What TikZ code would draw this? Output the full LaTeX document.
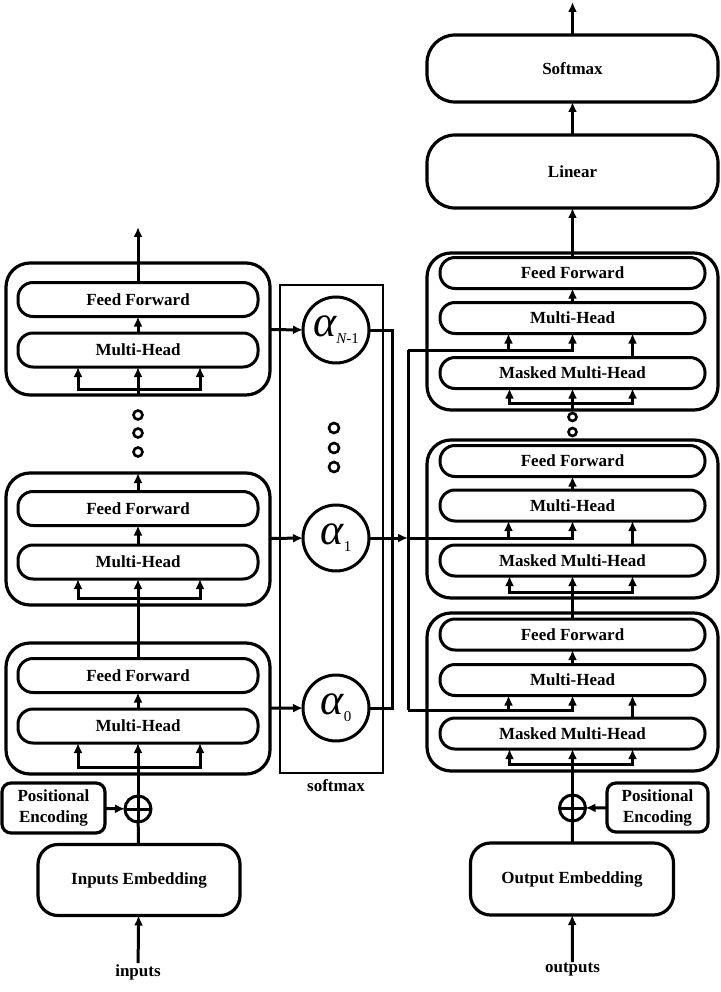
\documentclass[tikz,border=0pt]{standalone}
\usepackage{fontspec}
\setmainfont{Liberation Serif}
\usetikzlibrary{arrows.meta}
\newcommand\boxfont{\fontsize{17}{21}\selectfont\bfseries}
\newcommand\subfont{\fontsize{15}{15}\selectfont}
\newcommand\wtfont{\fontsize{44}{44}\selectfont\itshape}
\tikzset{
    wire/.style={line width=3pt},
    arr/.style={wire,-{Latex[length=10pt,width=9pt]}},
    fan/.style={wire,{Latex[length=10pt,width=9pt]}-{Latex[length=10pt,width=9pt]}},
    block/.style={draw,line width=3.2pt,rounded corners=24pt,inner sep=0pt,outer sep=0pt},
    pill/.style={draw,line width=3pt,rounded corners=15pt,inner sep=0pt,outer sep=0pt,font=\boxfont},
    card/.style={draw,line width=3.2pt,inner sep=0pt,outer sep=0pt,align=center,font=\boxfont},
    weight/.style={draw,circle,line width=3pt,minimum size=66pt,inner sep=0pt,outer sep=0pt},
    adder/.style={draw,circle,line width=3pt,minimum size=26pt,inner sep=0pt,outer sep=0pt},
    dot/.style={draw,circle,line width=2.6pt,minimum size=9pt,inner sep=0pt},
    caption/.style={inner sep=1pt,font=\boxfont}
}
\begin{document}
\begin{tikzpicture}[x=1pt,y=-1pt]
    \useasboundingbox (0,0) rectangle (720,992);
    \node[block,minimum width=264pt,minimum height=132pt] (encT) at (138,329) {};
    \node[pill,minimum width=240pt,minimum height=34pt] (encTff) at (138,299.5) {Feed Forward};
    \node[pill,minimum width=240pt,minimum height=34pt] (encTmh) at (138,350) {Multi-Head};
    \node[block,minimum width=264pt,minimum height=132pt] (encM) at (138,539) {};
    \node[pill,minimum width=240pt,minimum height=34pt] (encMff) at (138,508.5) {Feed Forward};
    \node[pill,minimum width=240pt,minimum height=34pt] (encMmh) at (138,562) {Multi-Head};
    \node[block,minimum width=264pt,minimum height=131pt] (encB) at (138,708.5) {};
    \node[pill,minimum width=240pt,minimum height=34pt] (encBff) at (138,675.5) {Feed Forward};
    \node[pill,minimum width=240pt,minimum height=34pt] (encBmh) at (138,726) {Multi-Head};
    \node[dot] (encDot1) at (138,415) {};
    \node[dot] (encDot2) at (138,433) {};
    \node[dot] (encDot3) at (138,452) {};
    \coordinate (encOut) at (138,227);

    \node[card,rounded corners=9pt,minimum width=103pt,minimum height=50pt] (peE) at (53.5,808) {Positional\\Encoding};
    \node[adder] (addE) at (138,809) {};
    \node[card,rounded corners=20pt,minimum width=202pt,minimum height=71pt] (embE) at (139,880) {Inputs Embedding};
    \node[caption] (inLbl) at (138,972) {inputs};

    \node[draw,line width=2.8pt,minimum width=103pt,minimum height=488pt,outer sep=0pt] (smx) at (331.5,529) {};
    \node[caption] (smxLbl) at (336,786) {softmax};
    \node[weight] (a2) at (336,330) {{\wtfont α}\raisebox{-7pt}{\subfont\itshape N\upshape{-}1}};
    \node[weight] (a1) at (336,538) {{\wtfont α}\raisebox{-7pt}{\subfont 1}};
    \node[weight] (a0) at (336,708) {{\wtfont α}\raisebox{-7pt}{\subfont 0}};
    \node[dot,minimum size=10pt] (smDot1) at (334,428) {};
    \node[dot,minimum size=10pt] (smDot2) at (334,448) {};
    \node[dot,minimum size=10pt] (smDot3) at (334,467) {};
    \coordinate (busL) at (392,708);
    \coordinate (busT) at (408,350);
    \coordinate (busM) at (408,538);
    \coordinate (busB) at (408,710);

    \node[block,minimum width=291pt,minimum height=157pt] (decT) at (572.5,331.5) {};
    \node[pill,minimum width=265pt,minimum height=31pt] (decTff) at (572.5,273) {Feed Forward};
    \node[pill,minimum width=265pt,minimum height=31pt] (decTmh) at (572.5,318) {Multi-Head};
    \node[pill,minimum width=265pt,minimum height=31pt] (decTmask) at (572.5,373) {Masked Multi-Head};
    \node[block,minimum width=291pt,minimum height=158pt] (decM) at (572.5,519) {};
    \node[pill,minimum width=265pt,minimum height=31pt] (decMff) at (572.5,461) {Feed Forward};
    \node[pill,minimum width=265pt,minimum height=31pt] (decMmh) at (572.5,505.5) {Multi-Head};
    \node[pill,minimum width=265pt,minimum height=31pt] (decMmask) at (572.5,560.5) {Masked Multi-Head};
    \node[block,minimum width=291pt,minimum height=158pt] (decB) at (572.5,692) {};
    \node[pill,minimum width=265pt,minimum height=31pt] (decBff) at (572.5,634.5) {Feed Forward};
    \node[pill,minimum width=265pt,minimum height=31pt] (decBmh) at (572.5,680) {Multi-Head};
    \node[pill,minimum width=265pt,minimum height=31pt] (decBmask) at (572.5,733.5) {Masked Multi-Head};
    \node[dot,minimum size=8pt] (decDot1) at (572.5,417) {};
    \node[dot,minimum size=8pt] (decDot2) at (572.5,432) {};

    \node[card,rounded corners=28pt,minimum width=291pt,minimum height=73pt] (lin) at (572.5,171.5) {Linear};
    \node[card,rounded corners=28pt,minimum width=291pt,minimum height=67pt] (smax) at (572.5,68.5) {Softmax};
    \coordinate (decOut) at (572.5,2);

    \node[card,rounded corners=9pt,minimum width=101pt,minimum height=49pt] (peD) at (657.5,807.5) {Positional\\Encoding};
    \node[adder] (addD) at (572.5,808) {};
    \node[card,rounded corners=20pt,minimum width=203pt,minimum height=72pt] (embD) at (572,879) {Output Embedding};
    \node[caption] (outLbl) at (572.5,970) {outputs};

    \draw[arr] (inLbl) -- (embE);
    \draw[wire] (embE) -- (addE);
    \draw[wire] (addE.west) -- (addE.east) (addE.north) -- (addE.south);
    \draw[arr] (peE) -- (addE);
    \draw[arr] (addE) -- (encBmh);
    \draw[fan] ([xshift=-60pt]encBmh.south) -- ++(0,24) -| ([xshift=62pt]encBmh.south);
    \draw[arr] (encBmh) -- (encBff);
    \draw[arr] (encBff) -- (encMmh);
    \draw[fan] ([xshift=-60pt]encMmh.south) -- ++(0,19) -| ([xshift=62pt]encMmh.south);
    \draw[arr] (encMmh) -- (encMff);
    \draw[arr] (encMff) -- (encM.north);
    \draw[arr] (encT.south) -- (encTmh);
    \draw[fan] ([xshift=-60pt]encTmh.south) -- ++(0,22) -| ([xshift=62pt]encTmh.south);
    \draw[arr] (encTmh) -- (encTff);
    \draw[arr] (encTff) -- (encOut);

    \draw[arr] (encT) -- (a2);
    \draw[arr] (encM) -- (a1);
    \draw[arr] (encB) -- (a0);
    \draw[wire] (a2.east) -| (busL) -- (a0.east);
    \draw[arr] (a1) -- (busM);
    \draw[wire] (busT) -- (busB);

    \draw[arr] (outLbl) -- (embD);
    \draw[wire] (embD) -- (addD);
    \draw[wire] (addD.west) -- (addD.east) (addD.north) -- (addD.south);
    \draw[arr] (peD) -- (addD);
    \draw[arr] (addD) -- (decBmask);
    \draw[fan] ([xshift=-63pt]decBmask.south) -- ++(0,15) -| ([xshift=60pt]decBmask.south);
    \draw[arr] ([xshift=60pt]decBmask.north) -- ([xshift=60pt]decBmh.south);
    \draw[arr] (busB) -| (decBmh.south);
    \draw[arr] (busB) -| ([xshift=-64pt]decBmh.south);
    \draw[arr] (decBmh) -- (decBff);
    \draw[arr] (decBff) -- (decMmask);
    \draw[fan] ([xshift=-63pt]decMmask.south) -- ++(0,16) -| ([xshift=60pt]decMmask.south);
    \draw[arr] ([xshift=60pt]decMmask.north) -- ([xshift=60pt]decMmh.south);
    \draw[arr] (busM) -| (decMmh.south);
    \draw[arr] (busM) -| ([xshift=-64pt]decMmh.south);
    \draw[arr] (decMmh) -- (decMff);
    \draw[arr] (decT.south) -- (decTmask);
    \draw[fan] ([xshift=-63pt]decTmask.south) -- ++(0,15) -| ([xshift=60pt]decTmask.south);
    \draw[arr] ([xshift=60pt]decTmask.north) -- ([xshift=60pt]decTmh.south);
    \draw[arr] (busT) -| (decTmh.south);
    \draw[arr] (busT) -| ([xshift=-64pt]decTmh.south);
    \draw[arr] (decTmh) -- (decTff);
    \draw[arr] (decTff) -- (lin);
    \draw[arr] (lin) -- (smax);
    \draw[arr] (smax) -- (decOut);
\end{tikzpicture}
\end{document}
